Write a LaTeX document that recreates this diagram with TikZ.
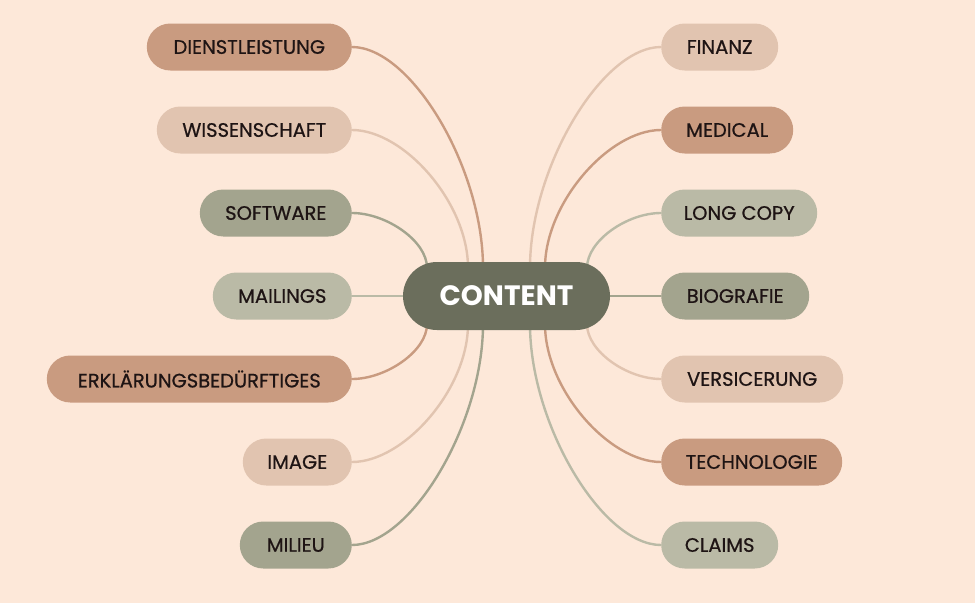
\documentclass[tikz,border=0pt]{standalone}
\usepackage{fontspec}
\setmainfont{Poppins}
\newfontfamily\medfont{Poppins}[FakeBold=0.7]
\usetikzlibrary{backgrounds}
\definecolor{bgc}{HTML}{FDE8D9}
\definecolor{terra}{HTML}{C99B80}
\definecolor{peach}{HTML}{E1C4B0}
\definecolor{olive}{HTML}{A3A48E}
\definecolor{lolive}{HTML}{BABAA6}
\definecolor{darkc}{HTML}{6B6E5C}
\definecolor{txt}{HTML}{1E1414}
\begin{document}
\begin{tikzpicture}[x=1pt,y=-1pt,
  leaf/.style={rounded corners=23.5pt, minimum height=47pt, inner xsep=0pt, inner ysep=0pt,
    font=\medfont\fontsize{19.5}{21}\selectfont, text=txt},
  lnode/.style={leaf, anchor=east},
  rnode/.style={leaf, anchor=west},
  link/.style={line width=2.4pt}]
\useasboundingbox (0,0) rectangle (975,603);
\begin{scope}[on background layer]
\fill[bgc] (0,0) rectangle (975,603);
\end{scope}
% centre
\node[fill=darkc, rounded corners=34pt, minimum width=207pt, minimum height=68pt, inner sep=0pt,
  font=\fontsize{28}{30}\selectfont\bfseries, text=white] (c) at (506.5,296) {CONTENT};
% left
\node[lnode, fill=terra,  minimum width=205pt] (d)  at (352,47)  {DIENSTLEISTUNG};
\node[lnode, fill=peach,  minimum width=195pt] (w)  at (352,130) {WISSENSCHAFT};
\node[lnode, fill=olive,  minimum width=152pt] (s)  at (352,213) {SOFTWARE};
\node[lnode, fill=lolive, minimum width=139pt] (m)  at (352,296) {MAILINGS};
\node[lnode, fill=terra,  minimum width=305pt] (e)  at (352,379) {ERKLÄRUNGSBEDÜRFTIGES};
\node[lnode, fill=peach,  minimum width=109pt] (i)  at (352,462) {IMAGE};
\node[lnode, fill=olive,  minimum width=112pt] (mi) at (352,545) {MILIEU};
% right
\node[rnode, fill=peach,  minimum width=117pt] (f)  at (661,47)  {FINANZ};
\node[rnode, fill=terra,  minimum width=132pt] (md) at (661,130) {MEDICAL};
\node[rnode, fill=lolive, minimum width=156pt] (lc) at (661,213) {LONG COPY};
\node[rnode, fill=olive,  minimum width=148pt] (b)  at (661,296) {BIOGRAFIE};
\node[rnode, fill=peach,  minimum width=182pt] (v)  at (661,379) {VERSICERUNG};
\node[rnode, fill=terra,  minimum width=181pt] (t)  at (661,462) {TECHNOLOGIE};
\node[rnode, fill=lolive, minimum width=117pt] (cl) at (661,545) {CLAIMS};
% links
\begin{scope}[on background layer]
\draw[link, terra]  (d.east) .. controls +(59,0) and +(0,-100) .. ([xshift=-23.5pt,yshift=-6pt]c.north);
\draw[link, peach]  (w.east) .. controls +(52,0) and +(0,-65) .. ([xshift=-38.5pt,yshift=-6pt]c.north);
\draw[link, olive]  (s.east) .. controls +(34,0) and +(0,-27) .. ([xshift=-79.5pt,yshift=-6pt]c.north);
\draw[link, lolive] (m.east) -- (c.west);
\draw[link, terra]  (e.east) .. controls +(34,0) and +(0,27) .. ([xshift=-79.5pt,yshift=6pt]c.south);
\draw[link, peach]  (i.east) .. controls +(52,0) and +(0,65) .. ([xshift=-38.5pt,yshift=6pt]c.south);
\draw[link, olive]  (mi.east) .. controls +(59,0) and +(0,100) .. ([xshift=-23.5pt,yshift=6pt]c.south);
\draw[link, peach]  (f.west) .. controls +(-59,0) and +(0,-100) .. ([xshift=23.5pt,yshift=-6pt]c.north);
\draw[link, terra]  (md.west) .. controls +(-52,0) and +(0,-65) .. ([xshift=38.5pt,yshift=-6pt]c.north);
\draw[link, lolive] (lc.west) .. controls +(-34,0) and +(0,-27) .. ([xshift=80.5pt,yshift=-6pt]c.north);
\draw[link, olive]  (b.west) -- (c.east);
\draw[link, peach]  (v.west) .. controls +(-34,0) and +(0,27) .. ([xshift=80.5pt,yshift=6pt]c.south);
\draw[link, terra]  (t.west) .. controls +(-52,0) and +(0,65) .. ([xshift=38.5pt,yshift=6pt]c.south);
\draw[link, lolive] (cl.west) .. controls +(-59,0) and +(0,100) .. ([xshift=23.5pt,yshift=6pt]c.south);
\end{scope}
\end{tikzpicture}
\end{document}
